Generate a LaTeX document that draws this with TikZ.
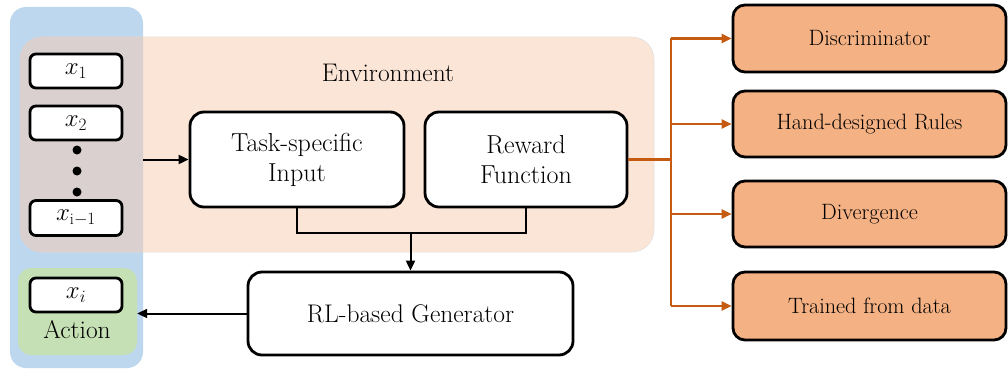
\documentclass[tikz,border=0pt]{standalone}
\usepackage{fontspec}
\usetikzlibrary{arrows.meta}
\definecolor{actorBlue}{HTML}{BDD7EE}
\definecolor{envPeach}{HTML}{FBE5D6}
\definecolor{overlapGrey}{HTML}{D9D0CF}
\definecolor{actionGreen}{HTML}{C5E0B4}
\definecolor{judgeFill}{HTML}{F4B183}
\definecolor{linkOrange}{HTML}{C55A11}

\begin{document}
\begin{tikzpicture}[x=1pt,y=-1pt,
  region/.style={inner sep=0pt,rounded corners=16pt},
  box/.style={draw,line width=2.8pt,rounded corners=14pt,fill=white,align=center,font=\fontsize{26}{30}\selectfont},
  xbox/.style={draw,line width=2.8pt,rounded corners=6pt,fill=white,minimum width=92pt,minimum height=34pt,font=\fontsize{23}{24}\selectfont},
  judge/.style={draw,line width=2.8pt,rounded corners=12pt,fill=judgeFill,minimum width=273pt,minimum height=66pt,font=\fontsize{22.2}{24}\selectfont},
  link/.style={line width=2pt,-{Triangle[length=10pt,width=9pt]}},
  olink/.style={draw=linkOrange,line width=2.2pt}]
\useasboundingbox (0,0) rectangle (1008,369);

\node[region,fill=actorBlue,minimum width=133pt,minimum height=361pt] (actor) at (76.5,187.5) {};
\node[region,fill=envPeach,draw=black!12,line width=0.5pt,rounded corners=22pt,minimum width=634pt,minimum height=215pt] (env) at (337,144.5) {};
\begin{scope}
  \clip[rounded corners=16pt] (actor.south west) rectangle (actor.north east);
  \fill[overlapGrey,rounded corners=22pt] (env.south west) rectangle (env.north east);
\end{scope}
\node[region,fill=actionGreen,rounded corners=13pt,minimum width=119pt,minimum height=87pt] (action) at (77.5,311.5) {};
\node[font=\fontsize{25.5}{28}\selectfont] (envlabel) at (388,73) {Environment};

\node[xbox] (x1) at (76,71) {$x_1$};
\node[xbox] (x2) at (76,123) {$x_2$};
\foreach \y [count=\i] in {150,171,192}
  \fill (77,\y) circle (4.5pt) coordinate (dot\i);
\node[xbox,minimum height=35pt] (xprev) at (76,218) {$x_{\mathrm{i}-1}$};
\node[xbox] (xi) at (76,295) {$x_i$};
\node[font=\fontsize{25.5}{28}\selectfont] (actionlabel) at (77,330) {Action};

\node[box,minimum width=214pt,minimum height=95pt] (task) at (297,159.5) {Task-specific\\Input};
\node[box,minimum width=202pt,minimum height=95pt] (reward) at (526,159.5) {Reward\\Function};
\node[box,font=\fontsize{25.5}{28}\selectfont,minimum width=325pt,minimum height=83pt] (gen) at (410.5,313.5) {RL-based Generator};

\node[judge,minimum height=67pt] (disc) at (869.5,38.5) {Discriminator};
\node[judge] (rules) at (869.5,124) {Hand-designed Rules};
\node[judge] (div) at (869.5,214) {Divergence};
\node[judge,minimum height=68pt] (trained) at (869.5,306) {Trained from data};

\draw[link] (actor.east |- task.west) -- (task.west);
\coordinate (join) at (410.5,233);
\draw[line width=2pt] (task.south) |- (join) -| (reward.south);
\draw[link] (join) -- (gen.north);
\draw[link] (gen.west) -- (action.east |- gen.west);

\coordinate (fork) at (671,159.5);
\draw[olink] (reward.east) -- (fork);
\draw[olink] (fork |- disc.west) -- (fork |- trained.west);
\foreach \j in {disc,rules,div,trained}
  \draw[olink,-{Triangle[length=10pt,width=9pt]},linkOrange] (fork |- \j.west) -- (\j.west);
\end{tikzpicture}
\end{document}
